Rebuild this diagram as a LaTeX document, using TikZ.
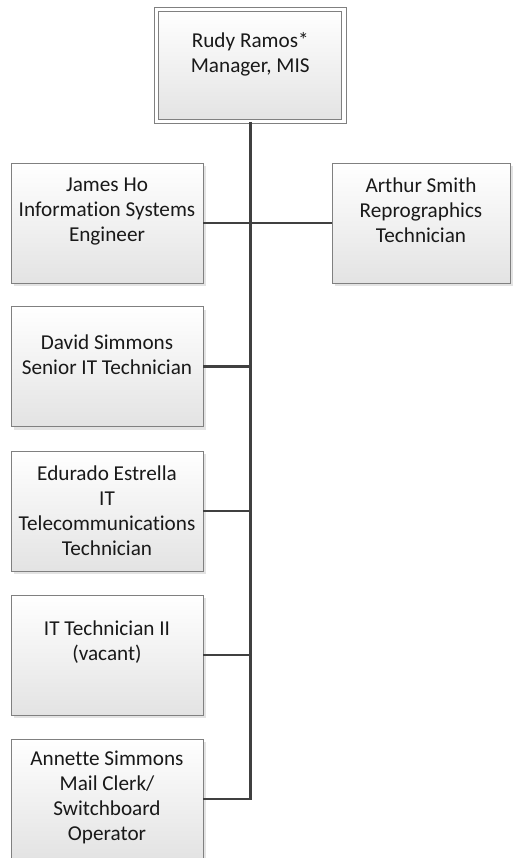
\documentclass[tikz,border=0pt]{standalone}
\usepackage{fontspec}
\setmainfont{Carlito}[Ligatures={NoCommon}]
\usetikzlibrary{shadows}

\begin{document}
\begin{tikzpicture}[x=1pt,y=-1pt,
  card/.style={rectangle,draw=black!50,line width=0.9pt,top color=white,bottom color=black!11,
    minimum width=192pt,minimum height=120pt,
    drop shadow={shadow xshift=3pt,shadow yshift=-3pt,opacity=0.11,fill=black}},
  headcard/.style={card,line width=0.8pt,double=white,double distance=3.6pt,
    minimum width=187.5pt,minimum height=112pt},
  caption/.style={align=center,font=\fontsize{21.2}{25}\selectfont,text=black!90},
  trunk/.style={draw=black!75,line width=2.8pt},
  branch/.style={draw=black!75,line width=2.2pt}]
\useasboundingbox (0,0) rectangle (514,858);
%
\node at (250.25,65.5) [headcard] (rr) {};
\node at ([yshift=11pt]rr.center) [caption] (rrt) {Rudy Ramos*\\Manager, MIS};
%
\node at (107,223) [card] (jho) {};
\node at ([yshift=11pt]jho.center) [caption] (jhot) {James Ho\\Information Systems\\Engineer};
\node at (421,223) [card,minimum width=178pt] (asm) {};
\node at ([yshift=13pt]asm.center) [caption] (asmt) {Arthur Smith\\Reprographics\\Technician};
%
\node at (107,366.5) [card] (dsi) {};
\node at ([yshift=11.5pt]dsi.center) [caption] (dsit) {David Simmons\\Senior IT Technician};
%
\node at (107,511) [card] (ees) {};
\node at (ees.center) [caption] (eest) {Edurado Estrella\\IT\\Telecommunications\\Technician};
%
\node at (107,655) [card] (it2) {};
\node at ([yshift=12.5pt]it2.center) [caption] (it2t) {IT Technician II\\(vacant)};
%
\node at (107,799) [card] (asi) {};
\node at ([yshift=1.5pt]asi.center) [caption] (asit) {Annette Simmons\\Mail Clerk/\\Switchboard\\Operator};
%
%
\draw[trunk] (rr.south) |- (asi.east);
%
\draw[branch] (jho.east) -- (asm.west);
\draw[branch] (dsi.east) -- (dsi.east -| rr.south);
\draw[branch] (ees.east) -- (ees.east -| rr.south);
\draw[branch] (it2.east) -- (it2.east -| rr.south);
\end{tikzpicture}
\end{document}
